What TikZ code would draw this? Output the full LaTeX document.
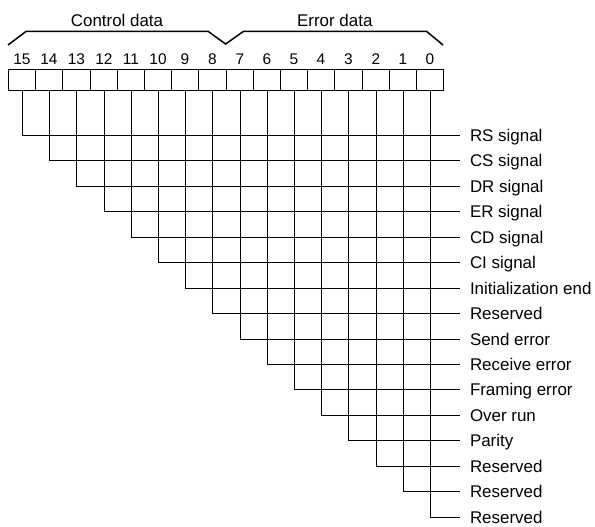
\documentclass[tikz,border=0pt]{standalone}
\usepackage{fontspec}
\setmainfont{Liberation Sans}
\begin{document}
\begin{tikzpicture}[x=1bp,y=-1bp,
  line width=1.5bp,
  bitbox/.style={draw, minimum height=21bp, inner sep=0pt, outer sep=0pt},
  bitnum/.style={inner sep=0pt, text height=11.1pt, text depth=0pt,
    font=\fontsize{15.5}{18}\selectfont},
  grouptitle/.style={inner sep=0pt, text height=12.2pt, text depth=0pt,
    font=\fontsize{17}{20}\selectfont},
  siglabel/.style={anchor=west, inner xsep=10bp, inner ysep=0pt, outer sep=0pt,
    text height=12.2pt, text depth=0pt, font=\fontsize{17}{20}\selectfont},
  wire/.style={line width=1.5bp}]
\useasboundingbox (0,0) rectangle (595,527);

% register bits 15..0 with their numbers (edges kept on pixel centres)
\foreach \i in {0,...,15} {
  \pgfmathsetmacro\lft{round(8+27.2*(15-\i))+0.5}
  \pgfmathsetmacro\rgt{round(8+27.2*(16-\i))+0.5}
  \pgfmathsetmacro\mid{(\lft+\rgt)/2}
  \pgfmathsetmacro\wx{floor(\mid)+0.5}
  \node[bitbox, minimum width=(\rgt-\lft)*1bp] (b\i) at (\mid, 80) {};
  \coordinate (c\i) at (\wx, 100);
  \node[bitnum] (n\i) at (\mid, 58.7) {\i};
}

% group brackets
\draw (8,45) -- (26,31.5) -- (208.3,31.5) -- (225.6,44) -- (243.3,31.5)
  -- (426.7,31.5) -- (443,45);
\node[grouptitle] (ctl) at (117,20) {Control data};
\node[grouptitle] (err) at (334.8,20) {Error data};

% signal names
\foreach \t [count=\k from 0] in {RS signal, CS signal, DR signal, ER signal,
  CD signal, CI signal, Initialization end, Reserved, Send error,
  Receive error, Framing error, Over run, Parity, Reserved, Reserved, Reserved} {
  \pgfmathsetmacro\ry{round(135+25.45*\k)+0.5}
  \node[siglabel] (s\k) at (460, \ry) {\t};
}

% bit lines to their signal names
\foreach \k in {0,...,15} {
  \pgfmathtruncatemacro\b{15-\k}
  \draw[wire] (b\b.south -| c\b) |- (s\k.west);
}
\end{tikzpicture}
\end{document}
